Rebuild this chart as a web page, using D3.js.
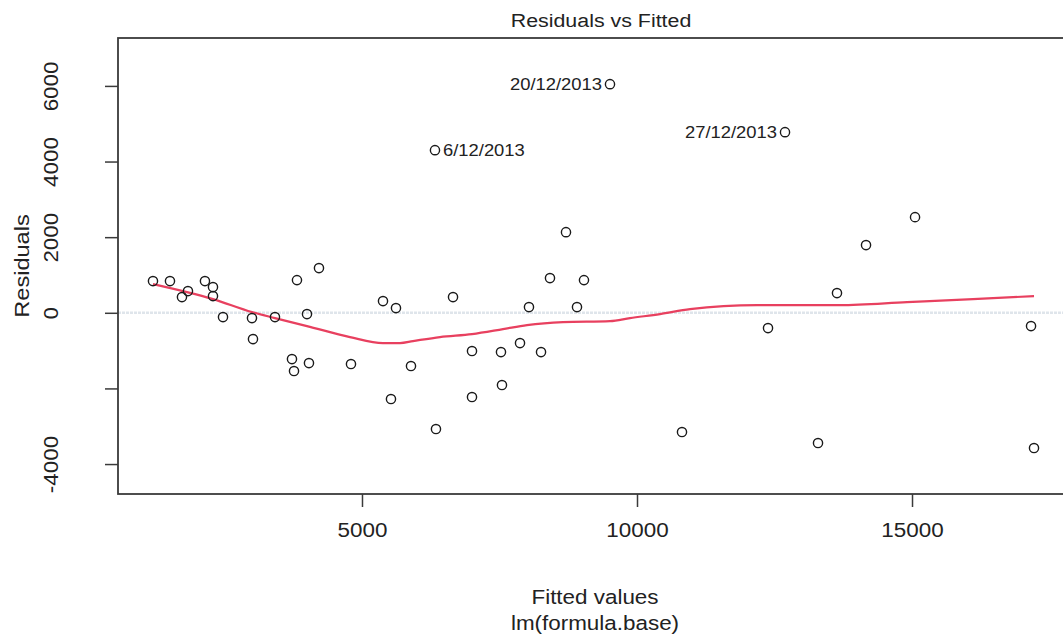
<!DOCTYPE html>
<html>
<head>
<meta charset="utf-8">
<script src="https://cdn.jsdelivr.net/npm/d3@7"></script>
<style>
  html, body { margin: 0; padding: 0; background: #fff; }
  svg { display: block; font-family: "Liberation Sans", Arial, sans-serif; }
</style>
</head>
<body>
<svg id="chart" width="1063" height="641"></svg>
<script>
// Fitted values and residuals of lm(formula.base)
const fitted = [1200, 1509, 1727, 1836, 2145, 2291, 2291, 2473, 3000, 3018,
  3418, 3818, 4218, 4000, 3727, 3764, 4036, 4800, 5382, 5618,
  5891, 5527, 6655, 6345, 7000, 7000, 7527, 7545, 7873, 8036,
  8255, 8418, 8709, 8909, 9036, 10818, 12382, 13291, 13636, 14164,
  15055, 17164, 17218, 9509, 12691, 6327];
const residuals = [838, 838, 415, 574, 838, 679, 441, -114, -140, -695,
  -114, 864, 1182, -34, -1224, -1541, -1330, -1356, 309, 124,
  -1409, -2281, 415, -3074, -1012, -2228, -1039, -1911, -801, 151,
  -1039, 917, 2133, 151, 864, -3154, -405, -3444, 521, 1790,
  2530, -352, -3577, 6046, 4777, 4301];

// Observations flagged with their week label
const labelIndex = [43, 44, 45];
const labelText = ["20/12/2013", "27/12/2013", "6/12/2013"];

// Smoothed trend of residuals against fitted values
const smoothX = [1200, 2291, 3000, 3418, 4000, 4782, 5382, 5691, 5927, 6418,
  7000, 7564, 8000, 8655, 9509, 9873, 10418, 10964, 12182, 13691,
  14909, 16109, 17218];
const smoothY = [759, 362, 18, -140, -351, -642, -801, -801, -748, -642,
  -563, -431, -325, -246, -220, -140, -34, 98, 204, 204,
  283, 362, 441];

const xTicks = [5000, 10000, 15000];
const yTicks = [-4000, -2000, 0, 2000, 4000, 6000];
const yTickLabels = ["-4000", "", "0", "2000", "4000", "6000"];

const title = "Residuals vs Fitted";
const xTitle = "Fitted values";
const subTitle = "lm(formula.base)";
const yTitle = "Residuals";

const svg = d3.select("#chart");
const box = { left: 118, right: 1068, top: 38, bottom: 494 };

const x = d3.scaleLinear().domain([564, 17836]).range([box.left, box.right]);
const y = d3.scaleLinear().domain([-4792, 7267]).range([box.bottom, box.top]);

const ink = "#222";
const fontSize = 19.5;
const stretch = 1.15;   // glyphs are drawn slightly wide

// text placed at (px, py), optionally rotated, widened along its baseline
function label(parent, px, py, str, size, anchor, angle) {
  return parent.append("text")
    .attr("transform", `translate(${px},${py}) rotate(${angle || 0}) scale(${stretch},1)`)
    .attr("text-anchor", anchor)
    .attr("font-size", size)
    .attr("fill", ink)
    .text(str);
}

// zero reference line
svg.append("line")
  .attr("x1", box.left).attr("x2", box.right)
  .attr("y1", y(0)).attr("y2", y(0))
  .attr("stroke", "#dfe5eb").attr("stroke-width", 2.5)
  .attr("stroke-dasharray", "3,1");

// plot frame
svg.append("rect")
  .attr("x", box.left).attr("y", box.top)
  .attr("width", box.right - box.left).attr("height", box.bottom - box.top)
  .attr("fill", "none").attr("stroke", "#3a3a3a").attr("stroke-width", 1.8);

// x axis
const xAxis = d3.axisBottom(x).tickValues(xTicks).tickSize(13).tickFormat(d3.format("d"));
const gx = svg.append("g").attr("transform", `translate(0,${box.bottom})`).call(xAxis);
gx.select(".domain").remove();
gx.selectAll(".tick line").attr("stroke", "#3a3a3a").attr("stroke-width", 1.5);
gx.selectAll(".tick text")
  .attr("fill", ink).attr("font-size", fontSize)
  .attr("font-family", "Liberation Sans, Arial, sans-serif")
  .attr("y", 0).attr("dy", null)
  .attr("transform", `translate(0,43) scale(${stretch},1)`);

// y axis
const yAxis = d3.axisLeft(y).tickValues(yTicks).tickSize(13)
  .tickFormat((d, i) => yTickLabels[i]);
const gy = svg.append("g").attr("transform", `translate(${box.left},0)`).call(yAxis);
gy.select(".domain").remove();
gy.selectAll(".tick line").attr("stroke", "#3a3a3a").attr("stroke-width", 1.5);
gy.selectAll(".tick text")
  .attr("fill", ink).attr("font-size", fontSize)
  .attr("font-family", "Liberation Sans, Arial, sans-serif")
  .attr("x", 0).attr("dy", null)
  .attr("text-anchor", "middle")
  .attr("transform", `translate(-60,0) rotate(-90) scale(${stretch},1)`);

// smoothed trend
const line = d3.line().x((d, i) => x(smoothX[i])).y((d, i) => y(smoothY[i]))
  .curve(d3.curveMonotoneX);
svg.append("path")
  .datum(smoothX)
  .attr("d", line)
  .attr("fill", "none")
  .attr("stroke", "#e8405f")
  .attr("stroke-width", 2.2);

// points
svg.append("g").selectAll("circle")
  .data(fitted)
  .join("circle")
  .attr("cx", (d) => x(d))
  .attr("cy", (d, i) => y(residuals[i]))
  .attr("r", 4.6)
  .attr("fill", "none")
  .attr("stroke", "#1a1a1a")
  .attr("stroke-width", 1.4);

// point labels: left of the point in the right half, right of it otherwise
const midX = (x.domain()[0] + x.domain()[1]) / 2;
const gl = svg.append("g");
labelIndex.forEach((d, i) => {
  const right = fitted[d] > midX;
  label(gl, x(fitted[d]) + (right ? -8 : 8), y(residuals[d]) + 6,
    labelText[i], 16, right ? "end" : "start");
});

// titles
label(svg, 601, 27, title, 18.6, "middle");
label(svg, 595, 604, xTitle, fontSize, "middle");
label(svg, 595, 630, subTitle, fontSize, "middle");
label(svg, 29, (box.top + box.bottom) / 2, yTitle, 20.5, "middle", -90);
</script>
</body>
</html>
